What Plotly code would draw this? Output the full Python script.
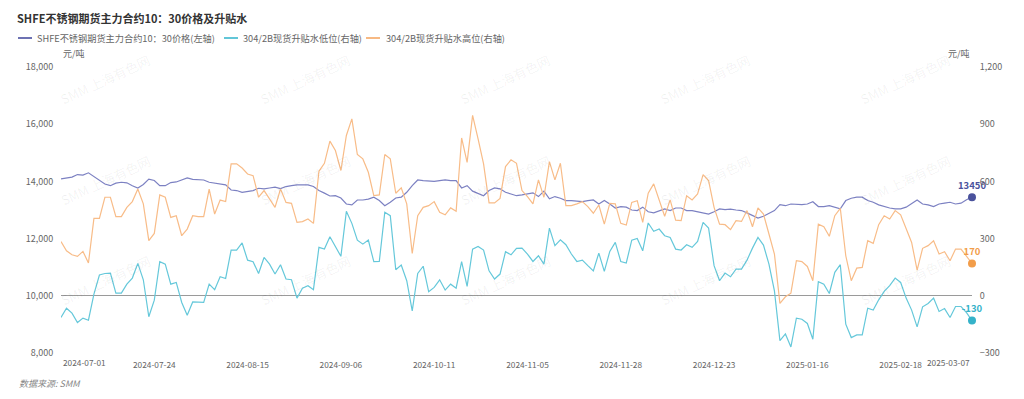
import plotly.graph_objects as go

# ---------------- data ----------------
tick_labels = ["2024-07-01", "2024-07-24", "2024-08-15", "2024-09-06", "2024-10-11",
               "2024-11-05", "2024-11-28", "2024-12-23", "2025-01-16", "2025-02-18",
               "2025-03-07"]

series_names = ["SHFE不锈钢期货主力合约10：30价格(左轴)",
                "304/2B现货升贴水低位(右轴)",
                "304/2B现货升贴水高位(右轴)"]

# SHFE stainless steel main contract 10:30 price (yuan/t), left axis
price = [
    14090, 14120, 14150, 14240, 14220, 14300, 14170, 14030, 13910, 13850,
    13940, 13970, 13950, 13850, 13770, 13890, 14080, 14030, 13850, 13850,
    13960, 13980, 14050, 14120, 14070, 14050, 14050, 13970, 13940, 13890,
    13880, 13700, 13680, 13620, 13660, 13680, 13760, 13740, 13770, 13800,
    13750, 13820, 13850, 13880, 13880, 13880, 13820, 13680, 13590, 13490,
    13500, 13420, 13210, 13180, 13350, 13350, 13380, 13450, 13330, 13150,
    13270, 13420, 13450, 13620, 13850, 14050, 14030, 14010, 14000, 14030,
    14050, 14030, 14030, 13770, 13850, 13660, 13590, 13500, 13680, 13770,
    13740, 13620, 13560, 13500, 13530, 13560, 13600, 13470, 13660, 13390,
    13470, 13410, 13330, 13330, 13320, 13290, 13330, 13350, 13210, 13330,
    13210, 13070, 13120, 13100, 13000, 12980, 13100, 12940, 12900, 12980,
    13040, 12980, 13070, 13070, 12980, 12980, 12940, 12890, 12860, 12940,
    13040, 13010, 13030, 13000, 12980, 12900, 12800, 12720, 12780, 12890,
    12980, 13190, 13150, 13210, 13190, 13190, 13210, 13290, 13120, 13120,
    13150, 13100, 13040, 13330, 13410, 13450, 13450, 13330, 13270, 13180,
    13120, 13070, 13040, 13040, 13100, 13210, 13350, 13210, 13180, 13120,
    13210, 13240, 13270, 13210, 13240, 13360, 13450,
]

# 304/2B spot premium, low (yuan/t), right axis
low = [
    -114, -65, -91, -140, -117, -128, 9, 109, 117, 119,
    14, 14, 61, 93, 170, 84, -110, -23, 179, 166,
    61, 70, -35, -102, -32, -35, -35, 61, 32, 100,
    91, 240, 240, 277, 187, 179, 117, 201, 166, 114,
    163, 88, 84, -12, 40, 53, 32, 254, 245, 310,
    259, 207, 443, 380, 292, 271, 292, 179, 180, 438,
    420, 137, 161, 79, -79, 117, 155, 21, 44, 84,
    30, 61, 40, 179, 49, 245, 259, 240, 131, 88,
    114, 231, 215, 249, 250, 219, 180, 210, 166, 355,
    263, 294, 268, 219, 180, 187, 158, 131, 224, 128,
    233, 280, 180, 172, 292, 301, 236, 382, 338, 350,
    315, 306, 245, 240, 268, 254, 285, 385, 355, 158,
    79, 119, 100, 140, 140, 187, 250, 306, 266, 166,
    26, -235, -200, -268, -117, -123, -145, -228, 74, 61,
    12, 123, 163, -149, -219, -205, -205, -65, -75, -21,
    23, 53, 93, 70, -12, -75, -163, -58, -40, -12,
    -82, -67, -114, -56, -56, -88, -130,
]

# 304/2B spot premium, high (yuan/t), right axis
high = [
    285, 236, 215, 207, 233, 172, 406, 406, 517, 517,
    415, 415, 464, 494, 560, 482, 289, 327, 529, 517,
    411, 420, 315, 350, 420, 415, 415, 560, 429, 502,
    494, 692, 692, 670, 639, 630, 517, 552, 508, 464,
    560, 490, 485, 385, 389, 403, 380, 653, 695, 811,
    762, 657, 841, 928, 741, 718, 648, 525, 529, 741,
    718, 538, 566, 482, 222, 420, 464, 473, 494, 438,
    425, 461, 443, 828, 700, 946, 823, 692, 487, 487,
    511, 678, 713, 695, 552, 520, 482, 608, 517, 704,
    608, 695, 473, 473, 482, 494, 468, 433, 476, 376,
    485, 482, 380, 371, 490, 499, 385, 538, 587, 503,
    417, 503, 397, 394, 525, 503, 534, 636, 604, 464,
    376, 373, 347, 394, 390, 447, 362, 461, 429, 324,
    219, -40, -5, 14, 184, 179, 154, 79, 376, 362,
    312, 420, 459, 210, 79, 145, 149, 289, 275, 373,
    420, 403, 447, 425, 350, 280, 135, 249, 263, 289,
    219, 231, 184, 245, 245, 210, 170,
]

# ---------------- styling ----------------
N = len(price)
x = list(range(N))
LABEL_STEP = 17

FONT = "Noto Sans CJK SC, Noto Sans, sans-serif"
C_PRICE, C_PRICE_D = "#7c81c2", "#4a529c"
C_LOW, C_LOW_D = "#65c8da", "#35b2c9"
C_HIGH, C_HIGH_D = "#f8bc88", "#f29d4a"
LEGEND_ICON = ["#6d72b3", "#62c6d8", "#f7b983"]
XFONT = 8.3

W, H = 1024, 399
ML, MR, MT, MB = 61, 52, 67, 46
PW, PH = W - ML - MR, H - MT - MB


def px(xp):
    return (xp - ML) / PW


def py(yp):
    return (H - MB - yp) / PH


fig = go.Figure()

fig.add_trace(go.Scatter(x=x, y=price, name=series_names[0], mode="lines",
                         line=dict(color=C_PRICE, width=1.2), yaxis="y"))
fig.add_trace(go.Scatter(x=x, y=low, name=series_names[1], mode="lines",
                         line=dict(color=C_LOW, width=1.2), yaxis="y2"))
fig.add_trace(go.Scatter(x=x, y=high, name=series_names[2], mode="lines",
                         line=dict(color=C_HIGH, width=1.2), yaxis="y2"))

# last-point markers and labels
for ys, yax, cd in [(price, "y", C_PRICE_D), (low, "y2", C_LOW_D), (high, "y2", C_HIGH_D)]:
    fig.add_trace(go.Scatter(x=[x[-1]], y=[ys[-1]], mode="markers+text", yaxis=yax,
                             marker=dict(color=cd, size=8),
                             text=[str(ys[-1])], textposition="top center",
                             textfont=dict(color=cd, size=9.5, family=FONT, weight="bold"),
                             showlegend=False, hoverinfo="skip", cliponaxis=False))

mid_ticks = [LABEL_STEP * k for k in range(1, len(tick_labels) - 1)]

annotations = []
shapes = []
# first / last x labels aligned to the plot edges
annotations.append(dict(x=x[0], y=py(362), xref="x", yref="paper", text=tick_labels[0],
                        showarrow=False, xanchor="left", yanchor="middle",
                        font=dict(size=XFONT, color="#666", family=FONT)))
annotations.append(dict(x=x[-1], y=py(362), xref="x", yref="paper", text=tick_labels[-1],
                        showarrow=False, xanchor="right", yanchor="middle",
                        font=dict(size=XFONT, color="#666", family=FONT)))
# units
annotations.append(dict(x=0, y=py(53), xref="paper", yref="paper", text="元/吨",
                        showarrow=False, xanchor="left", yanchor="middle",
                        font=dict(size=9, color="#666", family=FONT)))
annotations.append(dict(x=1, y=py(53), xref="paper", yref="paper", text="元/吨",
                        showarrow=False, xanchor="right", yanchor="middle",
                        font=dict(size=9, color="#666", family=FONT)))
# source
annotations.append(dict(x=px(17), y=py(383), xref="paper", yref="paper", text="数据来源: SMM",
                        showarrow=False, xanchor="left", yanchor="middle",
                        font=dict(size=9, color="#888", family=FONT, style="italic")))
# legend (drawn manually to match the compact spacing)
legend_pos = [(18, 35), (224, 241), (366, 384)]
for (ix, tx), name, col in zip(legend_pos, series_names, LEGEND_ICON):
    shapes.append(dict(type="line", xref="paper", yref="paper",
                       x0=px(ix), x1=px(ix + 14), y0=py(38), y1=py(38),
                       line=dict(color=col, width=2)))
    annotations.append(dict(x=px(tx), y=py(38), xref="paper", yref="paper", text=name,
                            showarrow=False, xanchor="left", yanchor="middle",
                            font=dict(size=9.2, color="#666", family=FONT)))
# watermarks
for wy in [80, 180, 280]:
    for wx in [105, 305, 505, 705, 905]:
        annotations.append(dict(x=px(wx), y=py(wy), xref="paper", yref="paper",
                                text="SMM 上海有色网", showarrow=False, textangle=-25,
                                xanchor="center", yanchor="middle",
                                font=dict(size=13, color="rgba(0,0,0,0.06)", family=FONT)))

fig.update_layout(
    width=W, height=H,
    margin=dict(l=ML, r=MR, t=MT, b=MB, autoexpand=False),
    paper_bgcolor="white", plot_bgcolor="white",
    font=dict(family=FONT, color="#666", size=9.5),
    title=dict(text="<b>SHFE不锈钢期货主力合约10：30价格及升贴水</b>",
               x=17 / W, xref="container", xanchor="left",
               y=1 - 19 / H, yref="container", yanchor="middle",
               font=dict(size=11, color="#333", family=FONT)),
    showlegend=False,
    hovermode=False,
    xaxis=dict(range=[0, N - 1], tickmode="array", tickvals=mid_ticks,
               ticktext=tick_labels[1:-1], showgrid=False, zeroline=False,
               showline=False, ticks="outside", ticklen=4, tickcolor="rgba(0,0,0,0)",
               tickfont=dict(size=XFONT, color="#666")),
    yaxis=dict(range=[8000, 18000], dtick=2000, tickformat=",", showgrid=False,
               zeroline=False, showline=False, ticks="outside", ticklen=5,
               tickcolor="rgba(0,0,0,0)", tickfont=dict(size=9, color="#666")),
    yaxis2=dict(range=[-300, 1200], dtick=300, tickformat=",", overlaying="y",
                side="right", showgrid=False, zeroline=True, zerolinecolor="#9a9a9a",
                zerolinewidth=1, showline=False, ticks="outside", ticklen=5,
                tickcolor="rgba(0,0,0,0)", tickfont=dict(size=9, color="#666")),
    annotations=annotations,
    shapes=shapes,
)

fig.write_html("out.html", config={"displayModeBar": False},
               post_script="document.body.style.margin='0';document.body.style.overflow='hidden';")
